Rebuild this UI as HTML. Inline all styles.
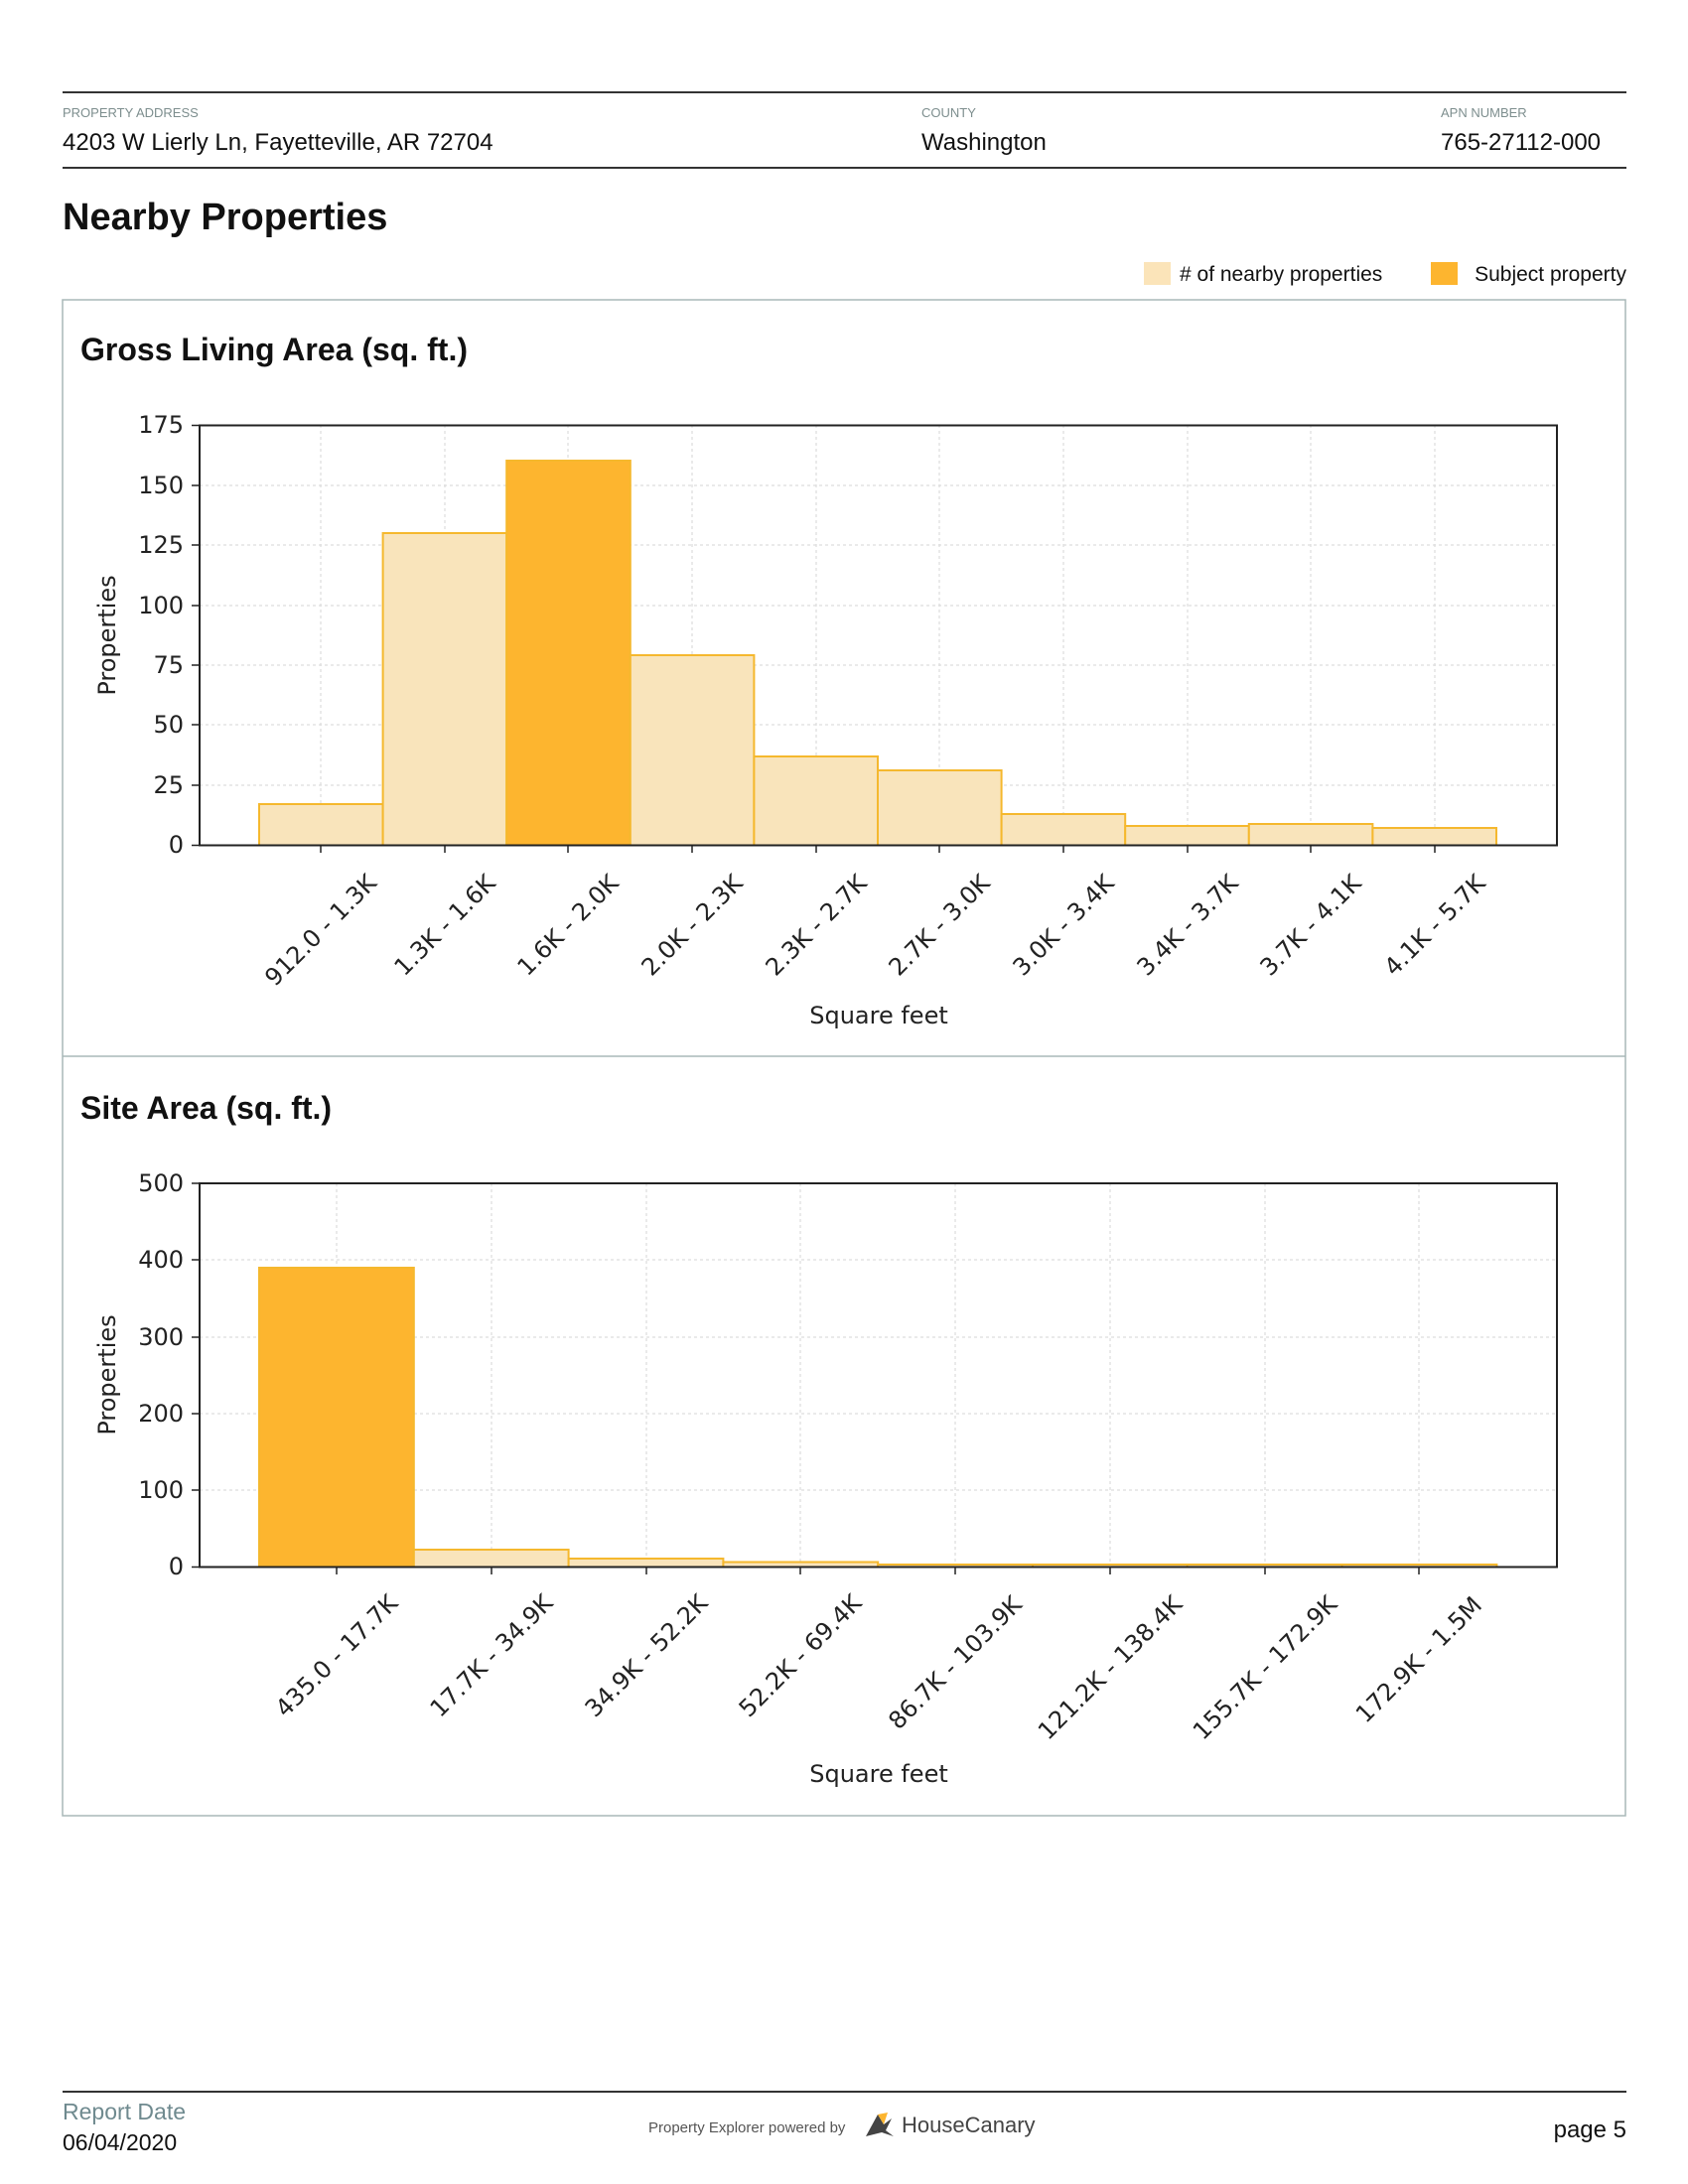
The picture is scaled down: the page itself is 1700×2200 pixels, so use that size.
<!DOCTYPE html>
<html><head><meta charset="utf-8"><style>
html,body{margin:0;padding:0;background:#fff;}
svg{display:block;}
.hdr{font-family:"Liberation Sans",sans-serif;}
.tk{font-family:"DejaVu Sans",sans-serif;font-size:24px;fill:#222;}
</style></head><body>
<svg width="1700" height="2200" viewBox="0 0 1700 2200" xmlns="http://www.w3.org/2000/svg">
<!-- header -->
<line x1="63" y1="93" x2="1638" y2="93" stroke="#333" stroke-width="2"/>
<line x1="63" y1="169" x2="1638" y2="169" stroke="#333" stroke-width="2"/>
<g class="hdr" font-size="13" fill="#7d8e8e">
<text x="63" y="118">PROPERTY ADDRESS</text>
<text x="928" y="118">COUNTY</text>
<text x="1451" y="118">APN NUMBER</text>
</g>
<g class="hdr" font-size="24" fill="#111">
<text x="63" y="151">4203 W Lierly Ln, Fayetteville, AR 72704</text>
<text x="928" y="151">Washington</text>
<text x="1451" y="151">765-27112-000</text>
</g>
<text class="hdr" x="63" y="231" font-size="38" font-weight="bold" fill="#111">Nearby Properties</text>
<rect x="1152" y="264" width="27" height="23" fill="#fbe4b9"/>
<text class="hdr" x="1188" y="283" font-size="21" fill="#111"># of nearby properties</text>
<rect x="1441" y="264" width="27" height="23" fill="#fdb52f"/>
<text class="hdr" x="1638" y="283" font-size="21" fill="#111" text-anchor="end">Subject property</text>
<!-- box -->
<rect x="63" y="302" width="1574" height="1527" fill="none" stroke="#a9b8b8" stroke-width="1.5"/>
<line x1="63" y1="1064" x2="1637" y2="1064" stroke="#a9b8b8" stroke-width="1.5"/>
<text class="hdr" x="81" y="363" font-size="32" font-weight="bold" fill="#111">Gross Living Area (sq. ft.)</text>
<text class="hdr" x="81" y="1127" font-size="32" font-weight="bold" fill="#111">Site Area (sq. ft.)</text>

<!-- chart 1 -->
<g stroke="#ddd" stroke-width="1.2" stroke-dasharray="3,3">
<line x1="201" y1="791" x2="1568" y2="791"/><line x1="201" y1="730" x2="1568" y2="730"/><line x1="201" y1="670" x2="1568" y2="670"/><line x1="201" y1="610" x2="1568" y2="610"/><line x1="201" y1="549" x2="1568" y2="549"/><line x1="201" y1="489" x2="1568" y2="489"/>
<line x1="323" y1="428" x2="323" y2="851"/><line x1="448" y1="428" x2="448" y2="851"/><line x1="572" y1="428" x2="572" y2="851"/><line x1="697" y1="428" x2="697" y2="851"/><line x1="822" y1="428" x2="822" y2="851"/><line x1="946" y1="428" x2="946" y2="851"/><line x1="1071" y1="428" x2="1071" y2="851"/><line x1="1196" y1="428" x2="1196" y2="851"/><line x1="1320" y1="428" x2="1320" y2="851"/><line x1="1445" y1="428" x2="1445" y2="851"/>
</g>
<g stroke="#f5b82e" stroke-width="2" fill="#f9e4bb">
<rect x="261" y="810" width="124.6" height="41.5"/>
<rect x="385.6" y="537" width="124.6" height="314.5"/>
<rect x="510.2" y="464" width="124.6" height="387.5" fill="#fdb52f"/>
<rect x="634.8" y="660" width="124.6" height="191.5"/>
<rect x="759.4" y="762" width="124.6" height="89.5"/>
<rect x="884" y="776" width="124.6" height="75.5"/>
<rect x="1008.6" y="820" width="124.6" height="31.5"/>
<rect x="1133.2" y="832" width="124.6" height="19.5"/>
<rect x="1257.8" y="830" width="124.6" height="21.5"/>
<rect x="1382.4" y="834" width="124.6" height="17.5"/>
</g>
<rect x="201" y="428.5" width="1367" height="423" fill="none" stroke="#222" stroke-width="2"/>
<g stroke="#222" stroke-width="1.5">
<line x1="193" y1="851.5" x2="201" y2="851.5"/><line x1="193" y1="791" x2="201" y2="791"/><line x1="193" y1="730" x2="201" y2="730"/><line x1="193" y1="670" x2="201" y2="670"/><line x1="193" y1="610" x2="201" y2="610"/><line x1="193" y1="549" x2="201" y2="549"/><line x1="193" y1="489" x2="201" y2="489"/><line x1="193" y1="428.5" x2="201" y2="428.5"/>
<line x1="323" y1="851" x2="323" y2="859"/><line x1="448" y1="851" x2="448" y2="859"/><line x1="572" y1="851" x2="572" y2="859"/><line x1="697" y1="851" x2="697" y2="859"/><line x1="822" y1="851" x2="822" y2="859"/><line x1="946" y1="851" x2="946" y2="859"/><line x1="1071" y1="851" x2="1071" y2="859"/><line x1="1196" y1="851" x2="1196" y2="859"/><line x1="1320" y1="851" x2="1320" y2="859"/><line x1="1445" y1="851" x2="1445" y2="859"/>
</g>
<g class="tk" text-anchor="end">
<text x="185" y="859">0</text><text x="185" y="799">25</text><text x="185" y="738">50</text><text x="185" y="678">75</text><text x="185" y="618">100</text><text x="185" y="557">125</text><text x="185" y="497">150</text><text x="185" y="436">175</text>
</g>
<g class="tk" text-anchor="middle">
<text transform="translate(323,937) rotate(-45)" dy="8">912.0 - 1.3K</text>
<text transform="translate(448,932) rotate(-45)" dy="8">1.3K - 1.6K</text>
<text transform="translate(572,932) rotate(-45)" dy="8">1.6K - 2.0K</text>
<text transform="translate(697,932) rotate(-45)" dy="8">2.0K - 2.3K</text>
<text transform="translate(822,932) rotate(-45)" dy="8">2.3K - 2.7K</text>
<text transform="translate(946,932) rotate(-45)" dy="8">2.7K - 3.0K</text>
<text transform="translate(1071,932) rotate(-45)" dy="8">3.0K - 3.4K</text>
<text transform="translate(1196,932) rotate(-45)" dy="8">3.4K - 3.7K</text>
<text transform="translate(1320,932) rotate(-45)" dy="8">3.7K - 4.1K</text>
<text transform="translate(1445,932) rotate(-45)" dy="8">4.1K - 5.7K</text>
<text x="885" y="1031">Square feet</text>
<text transform="translate(116,640) rotate(-90)">Properties</text>
</g>

<!-- chart 2 -->
<g stroke="#ddd" stroke-width="1.2" stroke-dasharray="3,3">
<line x1="201" y1="1501" x2="1568" y2="1501"/><line x1="201" y1="1424" x2="1568" y2="1424"/><line x1="201" y1="1347" x2="1568" y2="1347"/><line x1="201" y1="1269" x2="1568" y2="1269"/>
<line x1="339" y1="1192" x2="339" y2="1578"/><line x1="495" y1="1192" x2="495" y2="1578"/><line x1="651" y1="1192" x2="651" y2="1578"/><line x1="806" y1="1192" x2="806" y2="1578"/><line x1="962" y1="1192" x2="962" y2="1578"/><line x1="1118" y1="1192" x2="1118" y2="1578"/><line x1="1274" y1="1192" x2="1274" y2="1578"/><line x1="1429" y1="1192" x2="1429" y2="1578"/>
</g>
<g stroke="#f5b82e" stroke-width="2" fill="#f9e4bb">
<rect x="261" y="1277" width="155.8" height="301.5" fill="#fdb52f"/>
<rect x="416.8" y="1561" width="155.8" height="17.5"/>
<rect x="572.6" y="1570" width="155.8" height="8.5"/>
<rect x="728.4" y="1573.5" width="155.8" height="5"/>
<rect x="884.2" y="1576" width="155.8" height="2.5"/>
<rect x="1040" y="1576" width="155.8" height="2.5"/>
<rect x="1195.8" y="1576" width="155.8" height="2.5"/>
<rect x="1351.6" y="1576" width="155.8" height="2.5"/>
</g>
<rect x="201" y="1192" width="1367" height="386.5" fill="none" stroke="#222" stroke-width="2"/>
<g stroke="#222" stroke-width="1.5">
<line x1="193" y1="1578.5" x2="201" y2="1578.5"/><line x1="193" y1="1501" x2="201" y2="1501"/><line x1="193" y1="1424" x2="201" y2="1424"/><line x1="193" y1="1347" x2="201" y2="1347"/><line x1="193" y1="1269" x2="201" y2="1269"/><line x1="193" y1="1192" x2="201" y2="1192"/>
<line x1="339" y1="1578" x2="339" y2="1586"/><line x1="495" y1="1578" x2="495" y2="1586"/><line x1="651" y1="1578" x2="651" y2="1586"/><line x1="806" y1="1578" x2="806" y2="1586"/><line x1="962" y1="1578" x2="962" y2="1586"/><line x1="1118" y1="1578" x2="1118" y2="1586"/><line x1="1274" y1="1578" x2="1274" y2="1586"/><line x1="1429" y1="1578" x2="1429" y2="1586"/>
</g>
<g class="tk" text-anchor="end">
<text x="185" y="1586">0</text><text x="185" y="1509">100</text><text x="185" y="1432">200</text><text x="185" y="1355">300</text><text x="185" y="1277">400</text><text x="185" y="1200">500</text>
</g>
<g class="tk" text-anchor="middle">
<text transform="translate(339,1668) rotate(-45)" dy="8">435.0 - 17.7K</text>
<text transform="translate(495,1668) rotate(-45)" dy="8">17.7K - 34.9K</text>
<text transform="translate(651,1668) rotate(-45)" dy="8">34.9K - 52.2K</text>
<text transform="translate(806,1668) rotate(-45)" dy="8">52.2K - 69.4K</text>
<text transform="translate(962,1675) rotate(-45)" dy="8">86.7K - 103.9K</text>
<text transform="translate(1118,1680) rotate(-45)" dy="8">121.2K - 138.4K</text>
<text transform="translate(1274,1680) rotate(-45)" dy="8">155.7K - 172.9K</text>
<text transform="translate(1429,1672) rotate(-45)" dy="8">172.9K - 1.5M</text>
<text x="885" y="1795">Square feet</text>
<text transform="translate(116,1385) rotate(-90)">Properties</text>
</g>

<!-- footer -->
<line x1="63" y1="2107" x2="1638" y2="2107" stroke="#333" stroke-width="2"/>
<text class="hdr" x="63" y="2135" font-size="23" fill="#6f8a8f">Report Date</text>
<text class="hdr" x="63" y="2166" font-size="23" fill="#111">06/04/2020</text>
<text class="hdr" x="653" y="2148" font-size="15" fill="#555">Property Explorer powered by</text>
<path d="M872 2152 L884 2130 L890 2140 L898 2134 L892 2146 L900 2152 L888 2148 Z" fill="#444"/>
<path d="M884 2130 L894 2128 L890 2140 Z" fill="#fdb52f"/>
<text class="hdr" x="908" y="2148" font-size="22" fill="#444">HouseCanary</text>
<text class="hdr" x="1638" y="2153" font-size="24" fill="#111" text-anchor="end">page 5</text>
</svg>
</body></html>
